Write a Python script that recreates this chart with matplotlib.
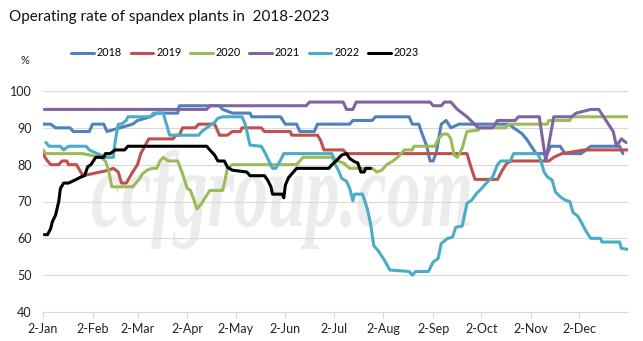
import numpy as np
import pandas as pd
import matplotlib
matplotlib.use('Agg')
import matplotlib.pyplot as plt
from matplotlib.textpath import TextPath
from matplotlib.patches import PathPatch
from matplotlib.font_manager import FontProperties
from matplotlib.transforms import Affine2D

plt.rcParams['font.family'] = ['Lato', 'DejaVu Sans']

# day of year -> operating rate (%)
d18 = [2, 7, 10, 19, 21, 31, 33, 40, 42, 58, 61, 69, 73, 86, 87, 112, 114, 120, 131, 132,
       150, 153, 160, 162, 171, 173, 193, 195, 207, 209, 230, 232, 236, 238, 241, 243, 245, 247, 250, 253,
       256, 261, 292, 295, 300, 303, 309, 316, 318, 324, 327, 337, 343, 361, 363]
v18 = [91, 91, 90, 90, 89, 89, 91, 91, 89, 91, 92, 93, 94, 94, 96, 96, 95, 94, 94, 93,
       93, 91, 91, 89, 89, 91, 91, 92, 92, 93, 93, 91, 91, 88.5, 85, 81, 81, 83.5, 91, 92,
       90, 91, 91, 90, 88.5, 87, 83, 83, 85, 85, 83, 83, 85, 85, 83]

d19 = [2, 5, 7, 12, 14, 17, 18, 23, 27, 41, 46, 49, 51, 54, 58, 61, 63, 68, 83, 85,
       87, 89, 97, 99, 109, 112, 117, 120, 125, 126, 138, 140, 156, 157, 173, 175, 177, 189, 191, 266,
       268, 271, 285, 288, 291, 294, 317, 320, 325, 339, 366]
v19 = [83, 81, 80, 80, 81, 81, 80, 80, 77, 78.3, 79, 78, 75, 75, 78, 80, 83, 87, 87, 88,
       88, 90, 90, 91, 91, 88, 88, 89, 89, 90, 90, 89, 89, 88, 88, 86.5, 84, 84, 83, 83,
       80, 76, 76, 78.5, 80.5, 81, 81, 82, 83, 84, 84]

d20 = [2, 4, 27, 38, 41, 43, 45, 58, 62, 64, 67, 70, 73, 75, 77, 80, 86, 89, 92, 94,
       98, 101, 103, 106, 114, 117, 120, 160, 162, 164, 183, 185, 189, 193, 207, 210, 213, 216, 220, 222,
       224, 227, 232, 233, 246, 248, 251, 254, 256, 258, 260, 263, 265, 266, 273, 274, 290, 292, 316, 317,
       330, 331, 366]
v20 = [84, 83, 83, 82, 81, 78.5, 74, 74, 76, 77.5, 78.5, 79, 79, 81, 82, 81, 81, 77.5, 73.5, 73,
       68, 69.5, 71, 73, 73, 79, 80, 80, 81, 82, 82, 81, 80.5, 79, 79, 78, 78.5, 80, 81, 81.7,
       82.5, 84, 84, 85, 85, 87, 88.3, 88.3, 87, 82.6, 82, 84.4, 87.6, 89, 89.4, 90, 90, 91, 91, 92,
       92, 93, 93]

d21 = [3, 104, 106, 166, 168, 189, 191, 195, 197, 243, 245, 250, 252, 256, 260, 266, 273, 282, 285, 296,
       298, 311, 315, 320, 331, 334, 343, 348, 354, 357, 359, 362, 365]
v21 = [95, 95, 96, 96, 97, 97, 95, 95, 97, 97, 96, 96, 97, 97, 95, 93, 90, 90, 92, 92,
       93, 93, 81, 93, 93, 94, 95, 95, 91, 89, 85, 87, 86]

d22 = [4, 6, 13, 15, 18, 29, 31, 36, 41, 44, 46, 47, 49, 51, 54, 55, 69, 71, 77, 79,
       81, 99, 101, 105, 109, 111, 114, 126, 128, 131, 138, 140, 142, 145, 147, 150, 152, 182, 184, 186,
       188, 191, 193, 195, 196, 201, 204, 206, 208, 211, 214, 216, 218, 230, 232, 234, 242, 245, 248, 250,
       254, 257, 259, 263, 266, 269, 272, 275, 278, 282, 285, 287, 293, 295, 310, 312, 314, 316, 319, 321,
       324, 327, 330, 332, 335, 337, 340, 343, 349, 350, 361, 362, 366]
v22 = [86, 85, 85, 84, 85, 85, 84, 83, 82, 82, 82, 86, 91, 91, 92, 93, 93, 94, 94, 91,
       88, 88, 89, 90.3, 91.5, 92.6, 93, 93, 91, 85.3, 85, 83.5, 81.7, 79, 79, 81.2, 83, 83, 80, 78.5,
       76.3, 75.5, 73.6, 70.2, 72, 72, 68, 64, 58, 56.5, 54.5, 53, 51.4, 51, 50, 51, 51, 53.6, 54.5, 58.6,
       60, 60.3, 63, 63.3, 69.5, 70.4, 72.2, 73.5, 75, 76.7, 80, 81, 81, 83, 83, 81, 78, 76.7, 75.8, 72.6,
       71.3, 70.4, 70, 67, 66, 64.5, 62, 60, 60, 59, 59, 57.3, 57]

d23 = [3, 5, 7, 8, 10, 12, 13, 15, 18, 22, 26, 28, 30, 32, 35, 40, 41, 44, 47, 53,
       55, 104, 106, 109, 111, 115, 117, 120, 129, 131, 140, 142, 144, 145, 151, 152, 153, 155, 158, 160,
       180, 182, 185, 188, 191, 193, 196, 198, 200, 202, 203, 206]
v23 = [61, 61, 62.7, 64.5, 66.3, 70, 73.5, 75, 75, 75.8, 76.7, 77, 79.4, 80, 82, 82, 83, 83, 84, 84,
       85, 85, 84, 82.6, 81, 81, 79.3, 78.5, 78, 77, 77, 75.8, 74, 72, 72, 71, 74.5, 76.5, 78, 79,
       79, 80, 81.2, 82.6, 83, 81.7, 80.8, 80.5, 78, 78, 79, 79]

years = ['2018', '2019', '2020', '2021', '2022', '2023']
colors = ['#4f81bd', '#c0504d', '#9bbb59', '#8064a2', '#4bacc6', '#000000']
month_labels = ['2-Jan', '2-Feb', '2-Mar', '2-Apr', '2-May', '2-Jun',
                '2-Jul', '2-Aug', '2-Sep', '2-Oct', '2-Nov', '2-Dec']

series = [(d18, v18), (d19, v19), (d20, v20), (d21, v21), (d22, v22), (d23, v23)]

W, H = 643, 341
fig = plt.figure(figsize=(W / 100, H / 100), dpi=100)
ax = fig.add_axes([42.7 / W, 1 - 312 / H, 585 / W, 221 / H])

# watermark
tp = TextPath((0, 0), 'ccfgroup.com', size=1,
              prop=FontProperties(family='Liberation Serif', style='italic', weight='bold'))
ext = tp.get_extents()
wm_tr = (Affine2D().translate(-ext.x0, -ext.y0)
         .scale(378 / ext.width, 99 / ext.height)
         .translate(92, H - 249)
         .scale(1 / W, 1 / H) + fig.transFigure)
ax.add_patch(PathPatch(tp, transform=wm_tr, fc='#ececec', ec='none', zorder=0.2))

handles = []
for (d, v), yr, c in zip(series, years, colors):
    ln, = ax.plot(d, v, color=c, lw=2.2, label=yr, zorder=2,
                  solid_joinstyle='round', solid_capstyle='round')
    handles.append(ln)

tick_days = pd.date_range('2018-01-02', periods=12, freq=pd.DateOffset(months=1)).dayofyear
ax.set_xticks(tick_days)
ax.set_xticklabels(month_labels)
ax.set_xlim(2, 366)
ax.set_ylim(40, 100)
ax.set_yticks(np.arange(40, 101, 10))

ax.yaxis.grid(True, color='#d9d9d9', lw=0.8)
ax.set_axisbelow(True)
for s in ['top', 'right', 'left']:
    ax.spines[s].set_visible(False)
ax.spines['bottom'].set_color('#d9d9d9')
ax.spines['bottom'].set_linewidth(0.8)
ax.tick_params(axis='x', direction='out', length=4, color='#d9d9d9', width=0.8,
               labelsize=9, labelcolor='#222222', pad=4)
ax.tick_params(axis='y', length=0, labelsize=9, labelcolor='#222222', pad=8)

fig.text(9 / W, 1 - 21 / H, 'Operating rate of spandex plants in  2018-2023',
         fontsize=11, va='baseline', ha='left', color='#111111')
fig.text(25 / W, 1 - 61 / H, '%', fontsize=8, ha='center', va='center', color='#222222')
fig.legend(handles=handles, loc='center', bbox_to_anchor=(245 / W, 1 - 53 / H), ncol=6,
           frameon=False, fontsize=7.8, handlelength=2.1, handletextpad=0.25,
           columnspacing=0.8)

fig.savefig('out.png', dpi=100)
